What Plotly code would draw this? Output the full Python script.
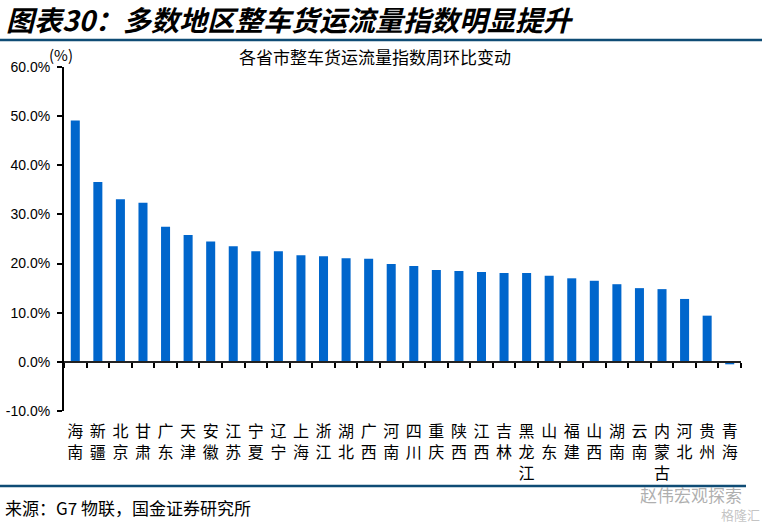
import plotly.graph_objects as go

provinces = ["海南", "新疆", "北京", "甘肃", "广东", "天津", "安徽", "江苏", "宁夏", "辽宁",
             "上海", "浙江", "湖北", "广西", "河南", "四川", "重庆", "陕西", "江西", "吉林",
             "黑龙江", "山东", "福建", "山西", "湖南", "云南", "内蒙古", "河北", "贵州", "青海"]
values = [49.1, 36.6, 33.1, 32.4, 27.5, 25.8, 24.5, 23.5, 22.5, 22.5,
          21.7, 21.5, 21.1, 21.0, 19.9, 19.5, 18.7, 18.5, 18.3, 18.1,
          18.1, 17.5, 17.0, 16.5, 15.8, 15.0, 14.8, 12.8, 9.4, -0.5]
y_ticks = [-10, 0, 10, 20, 30, 40, 50, 60]
y_tick_labels = [f"{v:.1f}%" for v in y_ticks]

W, H = 766, 523
L, R, T, B = 64, 25, 67, 112
pw, ph = W - L - R, H - T - B


def px(x):
    return (x - L) / pw


def py(y):
    return (H - B - y) / ph


stacked = ["<br>".join(list(p)) for p in provinces]
ymin, ymax = y_ticks[0], y_ticks[-1]

BAR = "#0066CC"
LINE = "#0F4C75"
CJK = "Noto Sans CJK SC"

fig = go.Figure()
fig.add_trace(go.Bar(x=provinces, y=values, marker_color=BAR, marker_line_width=0,
                     width=0.4, hoverinfo="x+y"))
fig.add_trace(go.Scatter(x=provinces, y=[0] * len(provinces), xaxis="x2", mode="markers",
                         marker=dict(opacity=0), hoverinfo="skip", showlegend=False))

fig.update_layout(
    width=W, height=H,
    margin=dict(l=L, r=R, t=T, b=B, autoexpand=False),
    paper_bgcolor="white", plot_bgcolor="white",
    showlegend=False,
    xaxis=dict(type="category", categoryorder="array", categoryarray=provinces,
               anchor="free", position=(0 - ymin) / (ymax - ymin),
               showline=True, linecolor="#222222", linewidth=2,
               ticks="outside", tickson="boundaries", ticklen=5, tickwidth=2, tickcolor="black",
               showticklabels=False, showgrid=False, zeroline=False, automargin=False,
               range=[-0.5, len(provinces) - 0.5]),
    xaxis2=dict(type="category", categoryorder="array", categoryarray=provinces,
                overlaying="x", anchor="y", side="bottom",
                range=[-0.5, len(provinces) - 0.5],
                showline=False, ticks="", showgrid=False, zeroline=False, automargin=False,
                tickmode="array", tickvals=provinces, ticktext=stacked,
                tickfont=dict(family=CJK, size=16, color="black"),
                ticklabelstandoff=9),
    yaxis=dict(range=[ymin, ymax], tickmode="array", tickvals=y_ticks, ticktext=y_tick_labels,
               showline=True, linecolor="black", linewidth=2,
               ticks="outside", ticklen=5, tickwidth=2, tickcolor="black",
               showgrid=False, zeroline=False, automargin=False,
               tickfont=dict(family="Liberation Sans, Arial", size=14, color="black"),
               ticklabelstandoff=4),
)

annotations = [
    dict(text="<b><i>图表30：多数地区整车货运流量指数明显提升</i></b>",
         x=px(4), y=py(19), xanchor="left", yanchor="middle",
         font=dict(family=CJK, size=28, color="black")),
    dict(text="各省市整车货运流量指数周环比变动",
         x=px(375), y=py(57), xanchor="center", yanchor="middle",
         font=dict(family=CJK, size=17, color="black")),
    dict(text="(%)",
         x=px(61), y=py(55), xanchor="center", yanchor="middle",
         font=dict(family=CJK, size=15, color="black")),
    dict(text="来源：G7 物联，国金证券研究所",
         x=px(3), y=py(507), xanchor="left", yanchor="middle",
         font=dict(family=CJK, size=17, color="black")),
    dict(text="赵伟宏观探索",
         x=px(744), y=py(494), xanchor="right", yanchor="middle",
         font=dict(family=CJK, size=17, color="rgba(140,140,140,0.7)")),
    dict(text="格隆汇",
         x=px(762), y=py(514), xanchor="right", yanchor="middle",
         font=dict(family=CJK, size=13, color="rgba(170,170,170,0.7)")),
]
for a in annotations:
    a.update(xref="paper", yref="paper", showarrow=False)
fig.update_layout(annotations=annotations)

fig.add_shape(type="line", xref="paper", yref="paper",
              x0=px(0), x1=px(762), y0=py(40), y1=py(40),
              line=dict(color=LINE, width=2.5))
fig.add_shape(type="line", xref="paper", yref="paper",
              x0=px(0), x1=px(746), y0=py(486), y1=py(486),
              line=dict(color=LINE, width=2.5))

fig.write_html("out.html", config={"displayModeBar": False},
               post_script="document.body.style.margin='0';document.body.style.padding='0';")
